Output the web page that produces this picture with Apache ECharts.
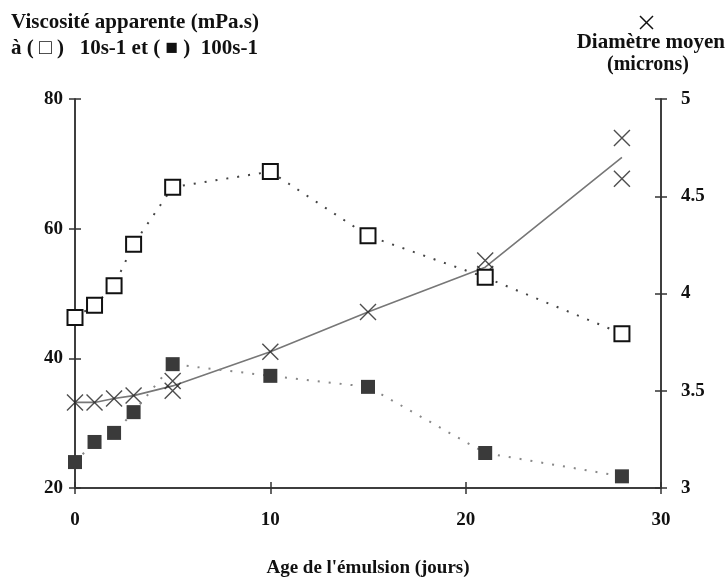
<!DOCTYPE html>
<html lang="fr">
  <head>
    <meta charset="UTF-8" />
    <title>Viscosité et diamètre</title>
    <script src="https://cdn.jsdelivr.net/npm/echarts@6/dist/echarts.min.js"></script>
    <style>
      html, body { margin: 0; padding: 0; background: #fff; }
      #chart { width: 727px; height: 583px; }
    </style>
  </head>
  <body>
    <div id="chart"></div>
    <script>
      // jours de mesure (viscosité)
      var jours = [0, 1, 2, 3, 5, 10, 15, 21, 28];
      // viscosité à 10 s-1 (carrés vides) et 100 s-1 (carrés pleins), mPa.s
      var visc10 = [46.3, 48.2, 51.2, 57.6, 66.4, 68.8, 58.9, 52.5, 43.8];
      var visc100 = [24.0, 27.1, 28.5, 31.7, 39.1, 37.3, 35.6, 25.4, 21.8];

      // diamètre moyen : chaque croix mesurée
      var diamJours = [0, 1, 2, 3, 5, 5, 10, 15, 21, 21, 28, 28];
      var diamValeurs = [3.44, 3.44, 3.46, 3.475, 3.5, 3.55, 3.7, 3.905, 4.17, 4.1, 4.8, 4.59];
      // courbe tracée (passe par la moyenne des doublons)
      var diamCourbe = [3.44, 3.44, 3.46, 3.475, 3.525, 3.7, 3.905, 4.135, 4.7];

      var police = "'Liberation Serif', 'Times New Roman', serif";

      function paires(xs, ys) {
        var out = [];
        for (var i = 0; i < xs.length; i++) out.push([xs[i], ys[i]]);
        return out;
      }

      var chart = echarts.init(document.getElementById('chart'));

      var labelStyle = {
        color: '#111',
        fontSize: 19,
        fontWeight: 'bold',
        fontFamily: police
      };
      var lineAxis = { lineStyle: { color: '#333', width: 1.5 } };
      var tickStyle = { color: '#333', width: 1.5 };

      var option = {
        animation: false,
        grid: { left: 75, right: 66, top: 99, bottom: 83 },
        graphic: [
          {
            type: 'text', left: 11, top: 12,
            style: { text: 'Viscosité apparente (mPa.s)', font: 'bold 21px ' + police, fill: '#111' }
          },
          {
            type: 'text', left: 11, top: 38,
            style: { text: 'à ( \u25A1 )   10s-1 et ( \u25A0 )  100s-1', font: 'bold 21px ' + police, fill: '#111' }
          },
          // petite croix au-dessus du titre de droite
          {
            type: 'line',
            shape: { x1: 640, y1: 16, x2: 653, y2: 29 },
            style: { stroke: '#111', lineWidth: 1.5 }
          },
          {
            type: 'line',
            shape: { x1: 653, y1: 16, x2: 640, y2: 29 },
            style: { stroke: '#111', lineWidth: 1.5 }
          },
          {
            type: 'text', right: 2, top: 32,
            style: { text: 'Diamètre moyen', font: 'bold 21px ' + police, fill: '#111', align: 'right' }
          },
          {
            type: 'text', left: 607, top: 55,
            style: { text: '(microns)', font: 'bold 20px ' + police, fill: '#111' }
          }
        ],
        xAxis: [
          {
            type: 'value', min: 0, max: 30, interval: 10,
            name: "Age de l'émulsion (jours)",
            nameLocation: 'middle', nameGap: 71,
            nameTextStyle: labelStyle,
            axisLine: lineAxis,
            axisTick: { length: 6, lineStyle: tickStyle },
            axisLabel: Object.assign({ margin: 23 }, labelStyle),
            splitLine: { show: false }
          },
          {
            type: 'value', min: 0, max: 30, interval: 10, position: 'bottom',
            axisLine: lineAxis,
            axisTick: { inside: true, length: 6, lineStyle: tickStyle },
            axisLabel: { show: false },
            splitLine: { show: false }
          }
        ],
        yAxis: [
          {
            type: 'value', min: 20, max: 80, interval: 20, position: 'left',
            axisLine: Object.assign({ show: true }, lineAxis),
            axisTick: { show: true, length: 6, lineStyle: tickStyle },
            axisLabel: Object.assign({ margin: 12 }, labelStyle),
            splitLine: { show: false }
          },
          {
            type: 'value', min: 20, max: 80, interval: 20, position: 'left',
            axisLine: Object.assign({ show: true }, lineAxis),
            axisTick: { show: true, inside: true, length: 6, lineStyle: tickStyle },
            axisLabel: { show: false },
            splitLine: { show: false }
          },
          {
            type: 'value', min: 3, max: 5, interval: 0.5, position: 'right',
            axisLine: Object.assign({ show: true }, lineAxis),
            axisTick: { show: true, length: 6, lineStyle: tickStyle },
            axisLabel: Object.assign({ margin: 20 }, labelStyle),
            splitLine: { show: false }
          },
          {
            type: 'value', min: 3, max: 5, interval: 0.5, position: 'right',
            axisLine: Object.assign({ show: true }, lineAxis),
            axisTick: { show: true, inside: true, length: 6, lineStyle: tickStyle },
            axisLabel: { show: false },
            splitLine: { show: false }
          }
        ],
        series: [
          {
            name: 'diamètre courbe',
            type: 'line',
            yAxisIndex: 2,
            data: paires(jours, diamCourbe),
            symbol: 'none',
            lineStyle: { color: '#777', width: 1.6 },
            z: 2
          },
          {
            name: 'diamètre',
            type: 'scatter',
            yAxisIndex: 2,
            data: paires(diamJours, diamValeurs),
            symbol: 'path://M0,0L10,10M10,0L0,10',
            symbolSize: 16,
            itemStyle: { color: 'none', borderColor: '#222', borderWidth: 1.4 },
            z: 3
          },
          {
            name: '10s-1',
            type: 'line',
            yAxisIndex: 0,
            data: paires(jours, visc10),
            symbol: 'rect',
            symbolSize: 15,
            itemStyle: { color: '#fff', borderColor: '#111', borderWidth: 2 },
            lineStyle: { color: '#444', width: 2, type: [2, 9] },
            z: 4
          },
          {
            name: '100s-1',
            type: 'line',
            yAxisIndex: 0,
            data: paires(jours, visc100),
            symbol: 'rect',
            symbolSize: 14,
            itemStyle: { color: '#3a3a3a', borderColor: '#3a3a3a', borderWidth: 0 },
            lineStyle: { color: '#888', width: 2, type: [2, 9] },
            z: 4
          }
        ]
      };

      chart.setOption(option);
    </script>
  </body>
</html>
